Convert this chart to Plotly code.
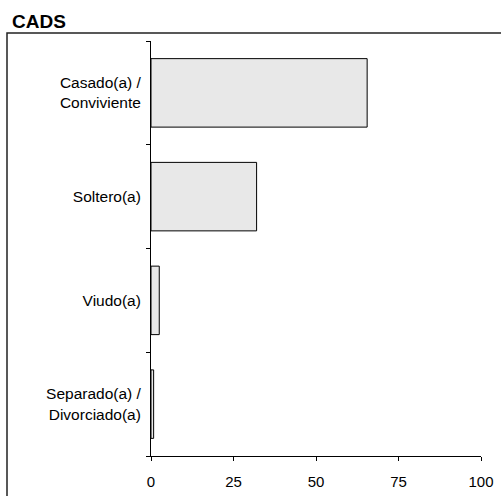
import plotly.graph_objects as go

categories = ["Casado(a) /<br>Conviviente", "Soltero(a)", "Viudo(a)", "Separado(a) /<br>Divorciado(a)"]
values = [65.5, 32.0, 2.5, 0.8]
x_ticks = [0, 25, 50, 75, 100]

fig = go.Figure(go.Bar(
    y=categories, x=values, orientation="h",
    marker=dict(color="#e8e8e8", line=dict(color="black", width=1)),
    width=0.66,
))

fig.update_layout(
    width=501, height=496,
    margin=dict(l=151, r=20, t=41, b=40, autoexpand=False),
    paper_bgcolor="white", plot_bgcolor="white",
    font=dict(family="Arial, Liberation Sans, sans-serif", size=16, color="black"),
    showlegend=False,
    title=dict(text="<b>CADS</b>", x=12/501, xanchor="left", y=1-21/496, yanchor="middle",
               font=dict(size=19, color="black")),
    shapes=[dict(type="rect", xref="paper", yref="paper",
                 x0=(7-151)/330, x1=1.2, y0=-0.3, y1=(456-33)/415,
                 line=dict(color="#222", width=1.5), fillcolor="rgba(0,0,0,0)", layer="below")],
)

fig.update_xaxes(range=[0, 100], tickvals=x_ticks, ticks="outside", ticklen=4, tickcolor="black",
                 showline=True, linecolor="black", linewidth=1, showgrid=False, zeroline=False,
                 automargin=False, ticklabelstandoff=8, tickfont=dict(size=15))
fig.update_yaxes(categoryorder="array", categoryarray=categories[::-1], autorange=False,
                 range=[-0.5, 3.5], tickson="boundaries", ticks="outside", ticklen=4,
                 tickcolor="black", showline=True, linecolor="black", linewidth=1,
                 showgrid=False, zeroline=False, automargin=False, ticklabelstandoff=6,
                 tickfont=dict(size=15.5))

fig.write_html("out.html", config={"displayModeBar": False},
               post_script="document.body.style.margin='0px';")
